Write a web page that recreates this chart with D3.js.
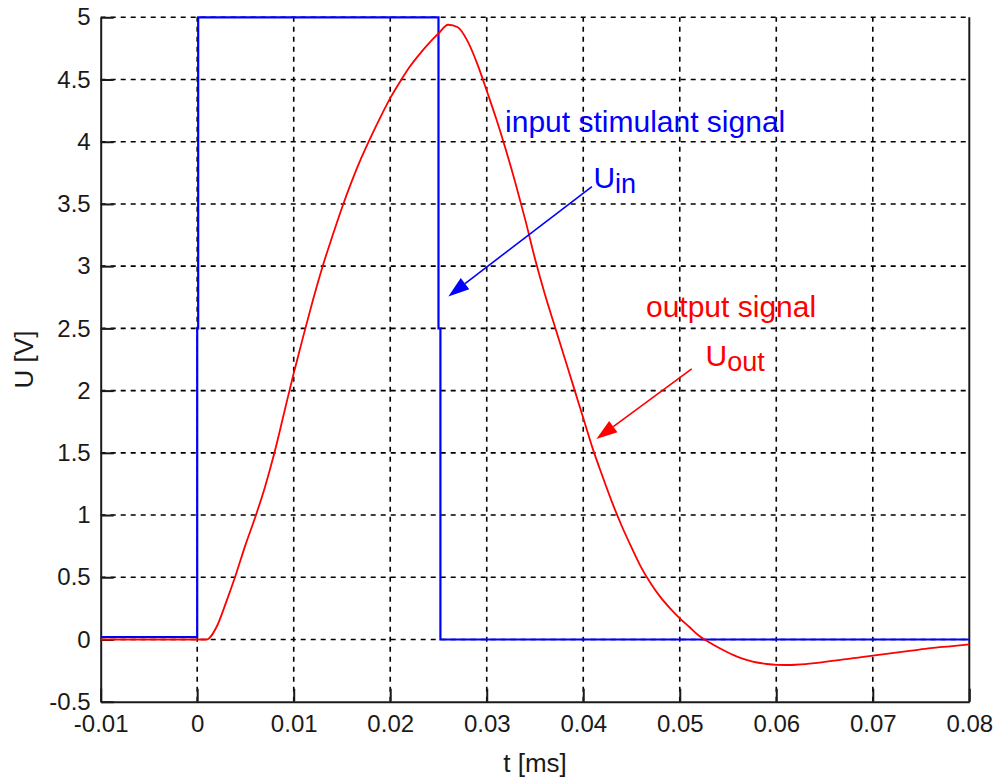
<!DOCTYPE html>
<html>
<head>
<meta charset="utf-8">
<script src="https://cdn.jsdelivr.net/npm/d3@7"></script>
<style>
  html, body { margin: 0; padding: 0; background: #fff; }
  svg { display: block; font-family: "Liberation Sans", Arial, sans-serif; }
</style>
</head>
<body>
<svg id="chart" width="998" height="778"></svg>
<script>
// Input stimulus: a 5 V rectangular pulse from t = 0 to t = 0.025 ms
const inputT = [-0.01, 0, 0, 0.0001, 0.0001, 0.025, 0.025, 0.0252, 0.0252, 0.08];
const inputU = [0.02, 0.02, 2.5, 2.5, 5, 5, 2.5, 2.5, 0, 0];

// Output response of the system
const outputT = [-0.01, 0, 0.001, 0.002, 0.003, 0.004, 0.005, 0.006, 0.007, 0.008, 0.009,
  0.010, 0.011, 0.012, 0.013, 0.014, 0.015, 0.016, 0.017, 0.018, 0.019,
  0.020, 0.021, 0.022, 0.023, 0.024, 0.025, 0.026, 0.027, 0.028, 0.029,
  0.030, 0.031, 0.032, 0.033, 0.034, 0.035, 0.036, 0.037, 0.038, 0.039,
  0.040, 0.041, 0.042, 0.043, 0.044, 0.045, 0.046, 0.047, 0.048, 0.049,
  0.050, 0.051, 0.052, 0.053, 0.054, 0.055, 0.056, 0.057, 0.058, 0.059,
  0.060, 0.061, 0.062, 0.063, 0.064, 0.065, 0.066, 0.067, 0.068, 0.069,
  0.070, 0.072, 0.074, 0.076, 0.078, 0.080];
const outputU = [0, 0, 0, 0.1, 0.3, 0.52, 0.76, 0.98, 1.22, 1.5, 1.82,
  2.14, 2.44, 2.73, 3.0, 3.24, 3.47, 3.68, 3.87, 4.04, 4.2,
  4.35, 4.48, 4.6, 4.7, 4.79, 4.87, 4.94, 4.92, 4.81, 4.63,
  4.41, 4.18, 3.93, 3.66, 3.37, 3.06, 2.78, 2.53, 2.28, 2.03,
  1.78, 1.53, 1.31, 1.1, 0.91, 0.74, 0.58, 0.45, 0.34, 0.25,
  0.17, 0.1, 0.03, -0.02, -0.065, -0.105, -0.14, -0.165, -0.185, -0.197,
  -0.204, -0.205, -0.203, -0.198, -0.19, -0.18, -0.17, -0.16, -0.15, -0.14,
  -0.13, -0.11, -0.09, -0.07, -0.055, -0.04];

// Axis ticks
const xTicks = [-0.01, 0, 0.01, 0.02, 0.03, 0.04, 0.05, 0.06, 0.07, 0.08];
const xTickLabels = ["-0.01", "0", "0.01", "0.02", "0.03", "0.04", "0.05", "0.06", "0.07", "0.08"];
const yTicks = [-0.5, 0, 0.5, 1, 1.5, 2, 2.5, 3, 3.5, 4, 4.5, 5];
const yTickLabels = ["-0.5", "0", "0.5", "1", "1.5", "2", "2.5", "3", "3.5", "4", "4.5", "5"];

// Annotations: text anchors and arrows in data units
const inputCaption = { t: 0.0319, u: 4.08, text: "input stimulant signal" };
const inputLabel = { t: 0.04105, u: 3.63, main: "U", sub: "in" };
const inputArrow = { t0: 0.0409, u0: 3.64, t1: 0.02602, u1: 2.757 };
const outputCaption = { t: 0.0465, u: 2.59, text: "output signal" };
const outputLabel = { t: 0.05267, u: 2.20, main: "U", sub: "out" };
const outputArrow = { t0: 0.05124, u0: 2.175, t1: 0.04136, u1: 1.611 };

const svg = d3.select("#chart");
const L = 100.7, R = 969.3, T = 17.3, B = 701.7;

const x = d3.scaleLinear().domain([-0.01, 0.08]).range([L, R]);
const y = d3.scaleLinear().domain([-0.5, 5]).range([B, T]);

const ink = "#1a1a1a";

// Grid
const grid = svg.append("g")
  .attr("stroke", "#000")
  .attr("stroke-width", 1.6)
  .attr("stroke-dasharray", "5,5");
grid.selectAll("line.v").data(xTicks.filter(d => d > -0.01 && d < 0.08)).join("line")
  .attr("x1", d => x(d)).attr("x2", d => x(d))
  .attr("y1", B).attr("y2", T);
grid.selectAll("line.h").data(yTicks.filter(d => d > -0.5)).join("line")
  .attr("x1", L).attr("x2", R)
  .attr("y1", d => y(d)).attr("y2", d => y(d));

// Axes
const xAxis = d3.axisBottom(x)
  .tickValues(xTicks)
  .tickFormat((d, i) => xTickLabels[i])
  .tickSizeInner(-13).tickSizeOuter(0).tickPadding(13);
const yAxis = d3.axisLeft(y)
  .tickValues(yTicks)
  .tickFormat((d, i) => yTickLabels[i])
  .tickSizeInner(-13).tickSizeOuter(0).tickPadding(10);

function styleAxis(g) {
  g.select(".domain").attr("stroke", ink).attr("stroke-width", 2);
  g.selectAll(".tick line").attr("stroke", ink).attr("stroke-width", 2);
  g.selectAll(".tick text")
    .attr("fill", ink)
    .style("font-family", "'Liberation Sans', Arial, sans-serif")
    .style("font-size", "24px");
}

svg.append("g").attr("transform", `translate(0,${B})`).call(xAxis).call(styleAxis);
svg.append("g").attr("transform", `translate(${L},0)`).call(yAxis).call(styleAxis);

// Right border
svg.append("line")
  .attr("x1", R).attr("x2", R).attr("y1", T).attr("y2", B)
  .attr("stroke", ink).attr("stroke-width", 2);

// Axis titles
svg.append("text")
  .attr("x", (L + R) / 2).attr("y", 772)
  .attr("text-anchor", "middle")
  .attr("fill", ink).style("font-size", "26px")
  .text("t [ms]");
svg.append("text")
  .attr("transform", `translate(33,${(T + B) / 2}) rotate(-90)`)
  .attr("text-anchor", "middle")
  .attr("fill", ink).style("font-size", "26px")
  .text("U [V]");

// Signals
const stepLine = d3.line().x(d => x(d[0])).y(d => y(d[1]));
const smoothLine = d3.line().x(d => x(d[0])).y(d => y(d[1])).curve(d3.curveMonotoneX);
svg.append("path")
  .datum(d3.zip(inputT, inputU))
  .attr("d", stepLine)
  .attr("fill", "none").attr("stroke", "#0000ff").attr("stroke-width", 2.2);
svg.append("path")
  .datum(d3.zip(outputT, outputU))
  .attr("d", smoothLine)
  .attr("fill", "none").attr("stroke", "#ff0000").attr("stroke-width", 1.8);

// Annotations
function caption(c, color) {
  svg.append("text")
    .attr("x", x(c.t)).attr("y", y(c.u))
    .attr("fill", color).style("font-size", "30px")
    .text(c.text);
}
function symbol(s, color) {
  const t = svg.append("text")
    .attr("x", x(s.t)).attr("y", y(s.u))
    .attr("fill", color).style("font-size", "30px");
  t.append("tspan").text(s.main);
  t.append("tspan").attr("dy", 5).style("font-size", "27px").text(s.sub);
}
function arrow(a, color) {
  const x0 = x(a.t0), y0 = y(a.u0), x1 = x(a.t1), y1 = y(a.u1);
  const ang = Math.atan2(y1 - y0, x1 - x0);
  const len = 21, half = 7;
  const bx = x1 - len * Math.cos(ang), by = y1 - len * Math.sin(ang);
  const px = -Math.sin(ang) * half, py = Math.cos(ang) * half;
  svg.append("line")
    .attr("x1", x0).attr("y1", y0).attr("x2", bx).attr("y2", by)
    .attr("stroke", color).attr("stroke-width", 1.6);
  svg.append("path")
    .attr("d", `M${x1},${y1}L${bx + px},${by + py}L${bx - px},${by - py}Z`)
    .attr("fill", color);
}

caption(inputCaption, "#0000ff");
symbol(inputLabel, "#0000ff");
arrow(inputArrow, "#0000ff");
caption(outputCaption, "#ff0000");
symbol(outputLabel, "#ff0000");
arrow(outputArrow, "#ff0000");
</script>
</body>
</html>
